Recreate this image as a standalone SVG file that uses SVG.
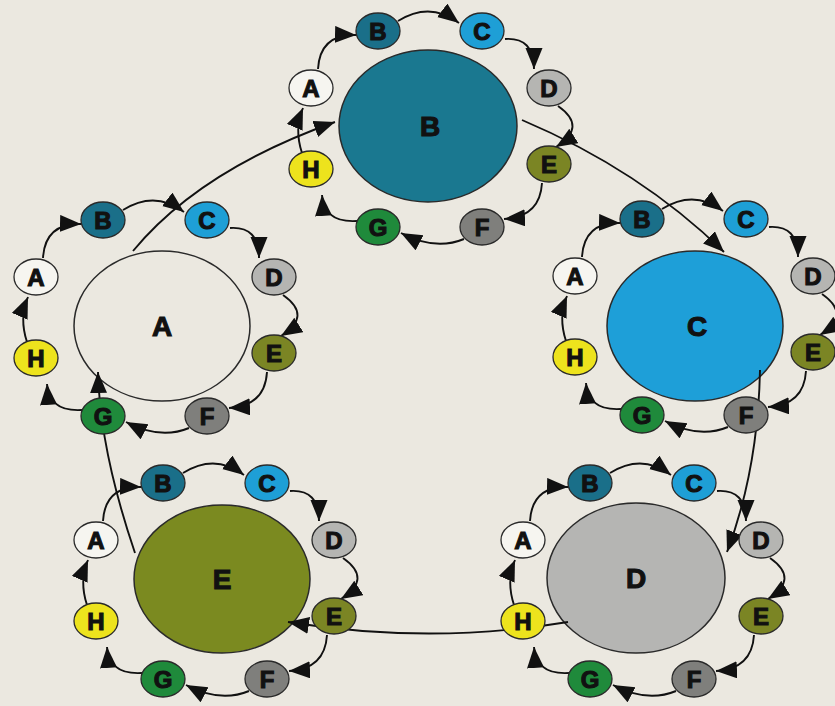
<svg xmlns="http://www.w3.org/2000/svg" xmlns:xlink="http://www.w3.org/1999/xlink" width="835" height="706" viewBox="0 0 835 706">
<defs>
<style>
.n ellipse{stroke:#2a2a2a;stroke-width:1.3}
.big ellipse{stroke:#2a2a2a;stroke-width:1.5}
text{font-family:"Liberation Sans",Arial,sans-serif;font-weight:bold;fill:#111;stroke:#111;stroke-width:1.1;text-anchor:middle}
.n text{font-size:24px}
.big text{font-size:28px}
.cA ellipse{fill:#f6f5f0}
.cB ellipse{fill:#1a6f89}
.cC ellipse{fill:#1e9fd6}
.cD ellipse{fill:#b5b5b2}
.cE ellipse{fill:#7b8524}
.cF ellipse{fill:#7f7f7c}
.cG ellipse{fill:#1f8a3b}
.cH ellipse{fill:#ede31d}
.conn path{fill:none;stroke:#111;stroke-width:1.9;marker-end:url(#ah)}
</style>
<marker id="ah" markerUnits="userSpaceOnUse" markerWidth="24" markerHeight="20" refX="21" refY="8.5" orient="auto">
<path d="M0,0 L21,8.5 L0,17 z" fill="#111"/>
</marker>
</defs>
<rect width="835" height="706" fill="#ebe8e0"/>

<!-- big nodes -->
<g id="big-A" class="big"><ellipse cx="162" cy="326" rx="88" ry="75" fill="#ebe8e0"/><text x="162" y="336">A</text></g>
<g id="big-B" class="big"><ellipse cx="428" cy="126" rx="89" ry="76" fill="#1a7890"/><text x="430" y="136">B</text></g>
<g id="big-C" class="big"><ellipse cx="695" cy="326" rx="88" ry="75" fill="#1e9fd8"/><text x="697" y="336">C</text></g>
<g id="big-D" class="big"><ellipse cx="636" cy="578" rx="89" ry="75" fill="#b5b5b3"/><text x="636" y="588">D</text></g>
<g id="big-E" class="big"><ellipse cx="222" cy="579" rx="88" ry="74" fill="#7b8a20"/><text x="222" y="589">E</text></g>

<!-- connectors -->
<g id="connectors" class="conn">
<path d="M133,251 Q200,170 335,122"/>
<path d="M522,120 Q640,170 724,252"/>
<path d="M760,370 Q758,470 727,552"/>
<path d="M568,622 Q430,645 288,622"/>
<path d="M135,553 Q100,450 98,372"/>
<g transform="translate(155,318)">
<path d="M-112,-60 Q-110,-95 -74,-94"/><path d="M-32,-108 Q0,-128 29,-106"/><path d="M75,-90 Q104,-92 104,-60"/><path d="M128,-23 Q158,-2 126,18"/><path d="M112,54 Q110,88 74,90"/><path d="M34,110 Q5,122 -29,104"/><path d="M-73,92 Q-106,94 -108,66"/><path d="M-128,24 Q-136,0 -127,-21"/>
</g>
<g transform="translate(430,129)">
<path d="M-112,-60 Q-110,-95 -74,-94"/><path d="M-32,-108 Q0,-128 29,-106"/><path d="M75,-90 Q104,-92 104,-60"/><path d="M128,-23 Q158,-2 126,18"/><path d="M112,54 Q110,88 74,90"/><path d="M34,110 Q5,122 -29,104"/><path d="M-73,92 Q-106,94 -108,66"/><path d="M-128,24 Q-136,0 -127,-21"/>
</g>
<g transform="translate(694,317)">
<path d="M-112,-60 Q-110,-95 -74,-94"/><path d="M-32,-108 Q0,-128 29,-106"/><path d="M75,-90 Q104,-92 104,-60"/><path d="M128,-23 Q158,-2 126,18"/><path d="M112,54 Q110,88 74,90"/><path d="M34,110 Q5,122 -29,104"/><path d="M-73,92 Q-106,94 -108,66"/><path d="M-128,24 Q-136,0 -127,-21"/>
</g>
<g transform="translate(642,581)">
<path d="M-112,-60 Q-110,-95 -74,-94"/><path d="M-32,-108 Q0,-128 29,-106"/><path d="M75,-90 Q104,-92 104,-60"/><path d="M128,-23 Q158,-2 126,18"/><path d="M112,54 Q110,88 74,90"/><path d="M34,110 Q5,122 -29,104"/><path d="M-73,92 Q-106,94 -108,66"/><path d="M-128,24 Q-136,0 -127,-21"/>
</g>
<g transform="translate(215,581)">
<path d="M-112,-60 Q-110,-95 -74,-94"/><path d="M-32,-108 Q0,-128 29,-106"/><path d="M75,-90 Q104,-92 104,-60"/><path d="M128,-23 Q158,-2 126,18"/><path d="M112,54 Q110,88 74,90"/><path d="M34,110 Q5,122 -29,104"/><path d="M-73,92 Q-106,94 -108,66"/><path d="M-128,24 Q-136,0 -127,-21"/>
</g>
</g>

<!-- cluster A small nodes -->
<g id="a-A" class="n cA" transform="translate(36,277)"><ellipse rx="22" ry="18"/><text y="8.5">A</text></g>
<g id="a-B" class="n cB" transform="translate(103,220)"><ellipse rx="22" ry="18"/><text y="8.5">B</text></g>
<g id="a-C" class="n cC" transform="translate(207,220)"><ellipse rx="22" ry="18"/><text y="8.5">C</text></g>
<g id="a-D" class="n cD" transform="translate(274,277)"><ellipse rx="22" ry="18"/><text y="8.5">D</text></g>
<g id="a-E" class="n cE" transform="translate(274,353)"><ellipse rx="22" ry="18"/><text y="8.5">E</text></g>
<g id="a-F" class="n cF" transform="translate(207,416)"><ellipse rx="22" ry="18"/><text y="8.5">F</text></g>
<g id="a-G" class="n cG" transform="translate(103,416)"><ellipse rx="22" ry="18"/><text y="8.5">G</text></g>
<g id="a-H" class="n cH" transform="translate(36,358)"><ellipse rx="22" ry="18"/><text y="8.5">H</text></g>

<!-- cluster B small nodes -->
<g id="b-A" class="n cA" transform="translate(311,88)"><ellipse rx="22" ry="18"/><text y="8.5">A</text></g>
<g id="b-B" class="n cB" transform="translate(378,31)"><ellipse rx="22" ry="18"/><text y="8.5">B</text></g>
<g id="b-C" class="n cC" transform="translate(482,31)"><ellipse rx="22" ry="18"/><text y="8.5">C</text></g>
<g id="b-D" class="n cD" transform="translate(549,88)"><ellipse rx="22" ry="18"/><text y="8.5">D</text></g>
<g id="b-E" class="n cE" transform="translate(549,164)"><ellipse rx="22" ry="18"/><text y="8.5">E</text></g>
<g id="b-F" class="n cF" transform="translate(482,227)"><ellipse rx="22" ry="18"/><text y="8.5">F</text></g>
<g id="b-G" class="n cG" transform="translate(378,227)"><ellipse rx="22" ry="18"/><text y="8.5">G</text></g>
<g id="b-H" class="n cH" transform="translate(311,169)"><ellipse rx="22" ry="18"/><text y="8.5">H</text></g>

<!-- cluster C small nodes -->
<g id="c-A" class="n cA" transform="translate(575,276)"><ellipse rx="22" ry="18"/><text y="8.5">A</text></g>
<g id="c-B" class="n cB" transform="translate(642,219)"><ellipse rx="22" ry="18"/><text y="8.5">B</text></g>
<g id="c-C" class="n cC" transform="translate(746,219)"><ellipse rx="22" ry="18"/><text y="8.5">C</text></g>
<g id="c-D" class="n cD" transform="translate(813,276)"><ellipse rx="22" ry="18"/><text y="8.5">D</text></g>
<g id="c-E" class="n cE" transform="translate(813,352)"><ellipse rx="22" ry="18"/><text y="8.5">E</text></g>
<g id="c-F" class="n cF" transform="translate(746,415)"><ellipse rx="22" ry="18"/><text y="8.5">F</text></g>
<g id="c-G" class="n cG" transform="translate(642,415)"><ellipse rx="22" ry="18"/><text y="8.5">G</text></g>
<g id="c-H" class="n cH" transform="translate(575,357)"><ellipse rx="22" ry="18"/><text y="8.5">H</text></g>

<!-- cluster D small nodes -->
<g id="d-A" class="n cA" transform="translate(523,540)"><ellipse rx="22" ry="18"/><text y="8.5">A</text></g>
<g id="d-B" class="n cB" transform="translate(590,483)"><ellipse rx="22" ry="18"/><text y="8.5">B</text></g>
<g id="d-C" class="n cC" transform="translate(694,483)"><ellipse rx="22" ry="18"/><text y="8.5">C</text></g>
<g id="d-D" class="n cD" transform="translate(761,540)"><ellipse rx="22" ry="18"/><text y="8.5">D</text></g>
<g id="d-E" class="n cE" transform="translate(761,616)"><ellipse rx="22" ry="18"/><text y="8.5">E</text></g>
<g id="d-F" class="n cF" transform="translate(694,679)"><ellipse rx="22" ry="18"/><text y="8.5">F</text></g>
<g id="d-G" class="n cG" transform="translate(590,679)"><ellipse rx="22" ry="18"/><text y="8.5">G</text></g>
<g id="d-H" class="n cH" transform="translate(523,621)"><ellipse rx="22" ry="18"/><text y="8.5">H</text></g>

<!-- cluster E small nodes -->
<g id="e-A" class="n cA" transform="translate(96,540)"><ellipse rx="22" ry="18"/><text y="8.5">A</text></g>
<g id="e-B" class="n cB" transform="translate(163,483)"><ellipse rx="22" ry="18"/><text y="8.5">B</text></g>
<g id="e-C" class="n cC" transform="translate(267,483)"><ellipse rx="22" ry="18"/><text y="8.5">C</text></g>
<g id="e-D" class="n cD" transform="translate(334,540)"><ellipse rx="22" ry="18"/><text y="8.5">D</text></g>
<g id="e-E" class="n cE" transform="translate(334,616)"><ellipse rx="22" ry="18"/><text y="8.5">E</text></g>
<g id="e-F" class="n cF" transform="translate(267,679)"><ellipse rx="22" ry="18"/><text y="8.5">F</text></g>
<g id="e-G" class="n cG" transform="translate(163,679)"><ellipse rx="22" ry="18"/><text y="8.5">G</text></g>
<g id="e-H" class="n cH" transform="translate(96,621)"><ellipse rx="22" ry="18"/><text y="8.5">H</text></g>
</svg>
